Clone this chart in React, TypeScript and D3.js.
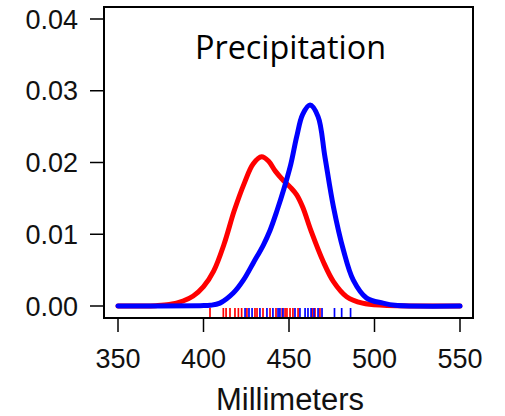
import React from "react";
import * as d3 from "d3";

const xTicks = [350, 400, 450, 500, 550];
const yTicks = [0, 0.01, 0.02, 0.03, 0.04];

const redDensity: [number, number][] = [
  [350, 0], [372, 0.00005], [380, 0.0002], [388, 0.0007], [394, 0.0014], [400, 0.0027],
  [406, 0.0049], [412, 0.0086], [418, 0.0133], [424, 0.0172], [429, 0.0198], [434, 0.0208],
  [438, 0.0202], [442, 0.0188], [446.7, 0.0175], [451, 0.0165], [454.5, 0.0155],
  [458, 0.0138], [463, 0.0104], [470, 0.0062], [476, 0.0034], [483.7, 0.0013],
  [493, 0.0004], [505, 0.0001], [550, 0],
];

const blueDensity: [number, number][] = [
  [350, 0], [398, 0.00005], [404, 0.0001], [409.6, 0.0004], [417.4, 0.0018], [423.3, 0.0036],
  [429.1, 0.006], [435, 0.0085], [439, 0.0106], [443, 0.0133], [447, 0.0163],
  [451, 0.0197], [454.5, 0.0236], [458, 0.0267], [462.3, 0.028], [467, 0.0264],
  [471, 0.0208], [476, 0.0138], [481.8, 0.0078], [487.6, 0.0036], [495.4, 0.0011],
  [505, 0.0004], [512, 0.0001], [550, 0],
];

const redRug = [403.8, 411.6, 413.2, 415.5, 418.4, 420.4, 422.3, 425.4, 430.1, 431.3, 434.8,
  438.9, 442.4, 446, 447.7, 448.8, 450.6, 452.3, 455.3, 463.5, 465.2, 468.1];

const blueRug = [424.3, 426.6, 428.4, 433, 437.1, 440.6, 443.6, 444.7, 446.5, 453.5, 456.4,
  459.4, 461.1, 462.9, 464.6, 467, 469.3, 476.6, 480.8, 486];

export default function App() {
  const W = 505, H = 416;
  const box = { left: 104, top: 7, right: 473, bottom: 318 };
  const x = d3.scaleLinear().domain([350, 550]).range([118, 460]);
  const y = d3.scaleLinear().domain([0, 0.04]).range([306, 19]);
  const line = d3.line<[number, number]>()
    .x(d => x(d[0]))
    .y(d => Math.min(y(0), y(d[1])))
    .curve(d3.curveCatmullRom.alpha(0.5));
  const font = "'Liberation Sans', Arial, Helvetica, sans-serif";
  const textColor = "#111";
  return (
    <svg width={W} height={H} style={{ position: "absolute", left: 0, top: 0, background: "#fff" }}>
      <rect x={box.left} y={box.top} width={box.right - box.left} height={box.bottom - box.top}
        fill="none" stroke="#000" strokeWidth={2} />
      {yTicks.map(t => (
        <g key={"y" + t}>
          <line x1={90} x2={box.left} y1={y(t)} y2={y(t)} stroke="#000" strokeWidth={1.5} />
          <text x={78} y={y(t)} dy="0.36em" textAnchor="end" fontFamily={font} fontSize={27} fill={textColor}>
            {t.toFixed(2)}
          </text>
        </g>
      ))}
      {xTicks.map(t => (
        <g key={"x" + t}>
          <line x1={x(t)} x2={x(t)} y1={box.bottom} y2={332} stroke="#000" strokeWidth={1.5} />
          <text x={x(t)} y={368} textAnchor="middle" fontFamily={font} fontSize={27} fill={textColor}>
            {t}
          </text>
        </g>
      ))}
      <text x={290} y={410} textAnchor="middle" fontFamily={font} fontSize={31} fill={textColor}>
        Millimeters
      </text>
      <text x={195} y={59} fontFamily="'Open Sans', 'Noto Sans', sans-serif" fontSize={33}
        textLength={191} lengthAdjust="spacingAndGlyphs" fill="#000">
        Precipitation
      </text>
      {redRug.map((v, i) => (
        <line key={"r" + i} x1={x(v)} x2={x(v)} y1={308} y2={317} stroke="#ff0000" strokeWidth={1.7} />
      ))}
      {blueRug.map((v, i) => (
        <line key={"b" + i} x1={x(v)} x2={x(v)} y1={308} y2={317} stroke="#0000ff" strokeWidth={1.7} />
      ))}
      <path d={line(redDensity) || ""} fill="none" stroke="#ff0000" strokeWidth={5} strokeLinecap="round" strokeLinejoin="round" />
      <path d={line(blueDensity) || ""} fill="none" stroke="#0000ff" strokeWidth={5} strokeLinecap="round" strokeLinejoin="round" />
    </svg>
  );
}
